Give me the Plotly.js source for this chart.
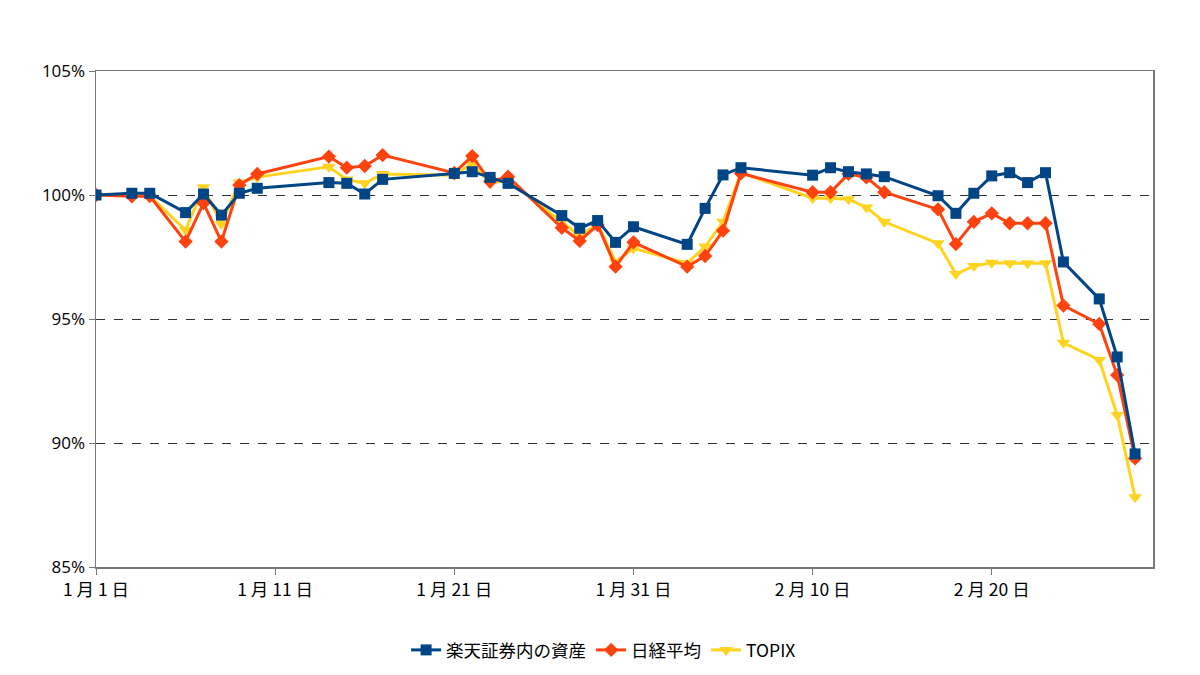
<!DOCTYPE html>
<html>
<head>
<meta charset="utf-8">
<script src="https://cdn.plot.ly/plotly-3.0.1.min.js"></script>
<style>html,body{margin:0;padding:0;background:#fff;}#chart{width:1200px;height:675px;}</style>
</head>
<body>
<div id="chart"></div>
<script>
const dates = [
  '2020-01-01','2020-01-03','2020-01-04','2020-01-06','2020-01-07','2020-01-08','2020-01-09','2020-01-10',
  '2020-01-14','2020-01-15','2020-01-16','2020-01-17',
  '2020-01-21','2020-01-22','2020-01-23','2020-01-24',
  '2020-01-27','2020-01-28','2020-01-29','2020-01-30','2020-01-31',
  '2020-02-03','2020-02-04','2020-02-05','2020-02-06',
  '2020-02-10','2020-02-11','2020-02-12','2020-02-13','2020-02-14',
  '2020-02-17','2020-02-18','2020-02-19','2020-02-20','2020-02-21','2020-02-22','2020-02-23',
  '2020-02-24','2020-02-26','2020-02-27','2020-02-28'
];
const rakuten = [
  100.00,100.07,100.07,99.29,100.04,99.19,100.07,100.27,
  100.50,100.47,100.04,100.63,
  100.87,100.94,100.71,100.47,
  99.17,98.66,98.97,98.09,98.72,
  98.01,99.46,100.81,101.10,
  100.80,101.10,100.94,100.85,100.74,
  99.97,99.26,100.07,100.77,100.90,100.50,100.90,
  97.30,95.81,93.47,89.56
];
const nikkei = [
  100.00,99.95,99.96,98.12,99.67,98.12,100.40,100.85,
  101.55,101.10,101.17,101.61,
  100.89,101.57,100.54,100.74,
  98.68,98.15,98.79,97.11,98.09,
  97.11,97.54,98.56,100.87,
  100.11,100.11,100.85,100.71,100.11,
  99.42,98.02,98.92,99.26,98.86,98.86,98.86,
  95.54,94.80,92.74,89.38
];
const topix = [
  100.00,99.96,99.96,98.59,100.31,98.83,100.50,100.72,
  101.14,100.63,100.47,100.85,
  100.80,101.28,100.47,100.60,
  98.92,98.35,98.83,97.31,97.85,
  97.25,97.92,98.92,100.90,
  99.87,99.87,99.83,99.50,98.92,
  98.05,96.81,97.14,97.27,97.25,97.25,97.25,
  94.04,93.35,91.13,87.81
];
const seriesNames = ['楽天証券内の資産','日経平均','TOPIX'];
const xTickVals = ['2020-01-01','2020-01-11','2020-01-21','2020-01-31','2020-02-10','2020-02-20'];
const xTickText = ['1 月 1 日','1 月 11 日','1 月 21 日','1 月 31 日','2 月 10 日','2 月 20 日'];
const yTickVals = [85,90,95,100,105];
const yTickText = ['85%','90%','95%','100%','105%'];

const traces = [
  {x: dates, y: topix, name: seriesNames[2], type: 'scatter', mode: 'lines+markers', legendrank: 3,
   line: {color: '#ffd320', width: 3}, marker: {symbol: 'triangle-down', size: 12, color: '#ffd320'}},
  {x: dates, y: nikkei, name: seriesNames[1], type: 'scatter', mode: 'lines+markers', legendrank: 2,
   line: {color: '#ff420e', width: 3}, marker: {symbol: 'diamond', size: 11, color: '#ff420e'}},
  {x: dates, y: rakuten, name: seriesNames[0], type: 'scatter', mode: 'lines+markers', legendrank: 1,
   line: {color: '#004586', width: 3}, marker: {symbol: 'square', size: 11, color: '#004586'}}
];

const layout = {
  width: 1200, height: 675,
  margin: {l: 96, r: 47, t: 71, b: 108},
  paper_bgcolor: '#fff', plot_bgcolor: '#fff',
  font: {family: 'Open Sans, "Noto Sans CJK JP", sans-serif', size: 17, color: '#000'},
  showlegend: true,
  legend: {orientation: 'h', xref: 'container', x: 0.503, xanchor: 'center', yref: 'container', y: 0.037, yanchor: 'middle',
           font: {family: '"Noto Sans CJK JP", sans-serif', size: 17.5, color: '#000'}, itemwidth: 30},
  xaxis: {
    type: 'date', range: ['2020-01-01', '2020-02-29'],
    tickvals: xTickVals, ticktext: xTickText,
    ticks: 'outside', ticklen: 6, tickcolor: '#777', tickwidth: 1,
    showgrid: false, zeroline: false,
    showline: true, linecolor: '#777', linewidth: 1.5, mirror: true,
    tickfont: {family: '"Noto Sans CJK JP", sans-serif', size: 17.5, color: '#000'}
  },
  yaxis: {
    range: [85, 105], tickvals: yTickVals, ticktext: yTickText,
    ticks: 'outside', ticklen: 6, tickcolor: '#777', tickwidth: 1,
    showgrid: true, gridcolor: '#333', gridwidth: 1, griddash: 'dash',
    zeroline: false,
    showline: true, linecolor: '#777', linewidth: 1.5, mirror: true,
    tickfont: {family: 'Open Sans, sans-serif', size: 17, color: '#000'}
  }
};

Plotly.newPlot('chart', traces, layout, {displayModeBar: false, staticPlot: true});
</script>
</body>
</html>
